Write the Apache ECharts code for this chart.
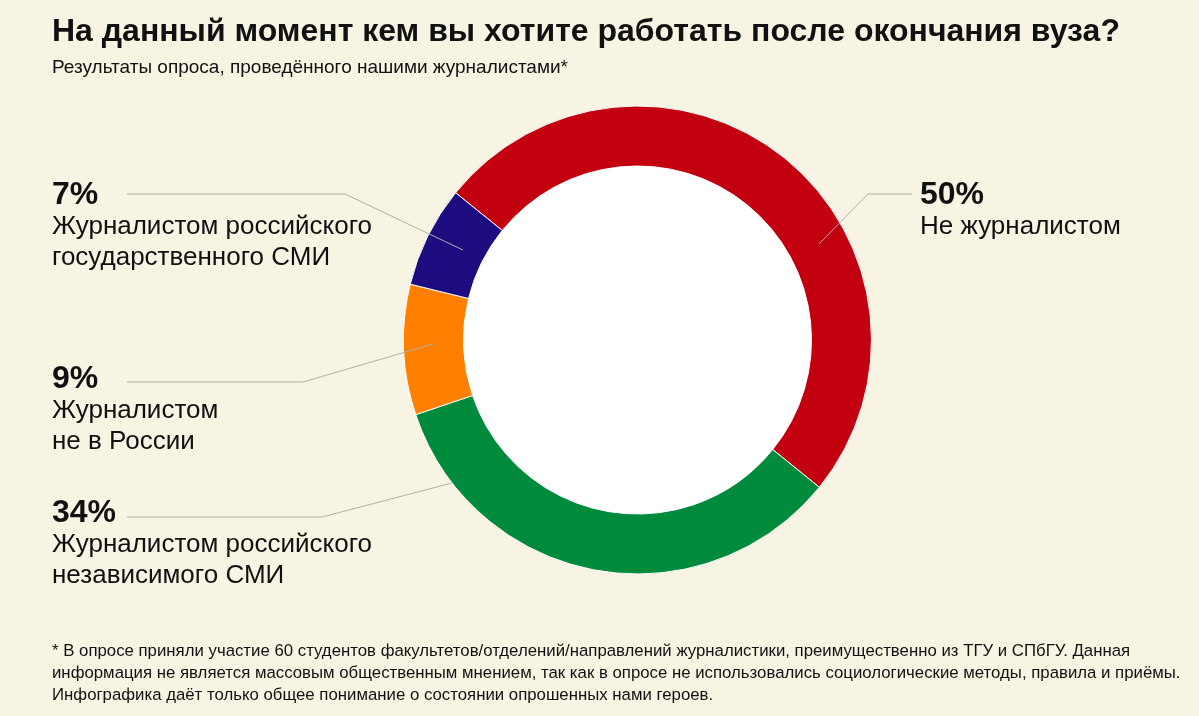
<!DOCTYPE html>
<html>
<head>
<meta charset="utf-8">
<script src="https://cdn.jsdelivr.net/npm/echarts@6/dist/echarts.min.js"></script>
<style>
html,body{margin:0;padding:0;background:#F8F4E4;}
#main{width:1199px;height:716px;}
</style>
</head>
<body>
<div id="main"></div>
<script>
// ---- data ----
const titleText = 'На данный момент кем вы хотите работать после окончания вуза?';
const subtitleText = 'Результаты опроса, проведённого нашими журналистами*';
const footnoteLines = [
  '* В опросе приняли участие 60 студентов факультетов/отделений/направлений журналистики, преимущественно из ТГУ и СПбГУ. Данная',
  'информация не является массовым общественным мнением, так как в опросе не использовались социологические методы, правила и приёмы.',
  'Инфографика даёт только общее понимание о состоянии опрошенных нами героев.'
];
const categories = [
  'Не журналистом',
  'Журналистом российского независимого СМИ',
  'Журналистом не в России',
  'Журналистом российского государственного СМИ'
];
const labelLines = [
  ['Не журналистом'],
  ['Журналистом российского', 'независимого СМИ'],
  ['Журналистом', 'не в России'],
  ['Журналистом российского', 'государственного СМИ']
];
const values = [50, 34, 9, 7];
const colors = ['#C3000F', '#008A3B', '#FF8000', '#1D0C80'];

// ---- layout (label placement and leader lines) ----
const labelPos = [
  {x: 920, y: 178, line: [[819, 244], [868, 194], [912, 194]]},
  {x: 52, y: 496, line: [[452, 483], [322, 517], [127, 517]]},
  {x: 52, y: 362, line: [[433, 344], [303, 382], [127, 382]]},
  {x: 52, y: 178, line: [[463, 250], [345, 194], [127, 194]]}
];

const chart = echarts.init(document.getElementById('main'), null, {renderer: 'canvas'});
const FONT = 'Arial';

const option = {
  backgroundColor: '#F8F4E4',
  animation: false,
  title: [
    {text: titleText, left: 52, top: 14, padding: 0,
     textStyle: {fontFamily: FONT, fontWeight: 'bold', fontSize: 32, color: '#111', lineHeight: 36}},
    {text: subtitleText, left: 52, top: 56, padding: 0,
     textStyle: {fontFamily: FONT, fontWeight: 'normal', fontSize: 19, color: '#111', lineHeight: 24}},
    {text: footnoteLines.join('\n'), left: 52, top: 640, padding: 0,
     textStyle: {fontFamily: FONT, fontWeight: 'normal', fontSize: 16.8, color: '#111', lineHeight: 22}}
  ],
  series: [
    {
      type: 'pie',
      silent: true,
      center: [637.5, 340],
      radius: [0, 174],
      label: {show: false},
      labelLine: {show: false},
      itemStyle: {color: '#FFFFFF'},
      data: [{value: 1, name: 'hole'}],
      z: 1
    },
    {
      type: 'pie',
      center: [637.5, 340],
      radius: [174, 234],
      startAngle: 141,
      clockwise: true,
      avoidLabelOverlap: false,
      itemStyle: {borderColor: '#FFFFFF', borderWidth: 1},
      data: values.map((v, i) => ({
        value: v, name: categories[i], itemStyle: {color: colors[i]}
      })),
      label: {show: false},
      labelLine: {show: false},
      z: 2
    },
    {
      // same values again, transparent, carrying the labels so leader lines sit above the ring
      type: 'pie',
      silent: true,
      center: [637.5, 340],
      radius: [174, 234],
      startAngle: 141,
      clockwise: true,
      avoidLabelOverlap: false,
      itemStyle: {color: 'rgba(0,0,0,0)', borderWidth: 0},
      data: values.map((v, i) => ({value: v, name: categories[i]})),
      label: {
        show: true,
        position: 'outside',
        formatter: function (p) {
          const i = p.dataIndex;
          return '{p|' + values[i] + '%}\n' + labelLines[i].map(l => '{t|' + l + '}').join('\n');
        },
        rich: {
          p: {fontFamily: FONT, fontWeight: 'bold', fontSize: 32, lineHeight: 34, color: '#111'},
          t: {fontFamily: FONT, fontWeight: 'normal', fontSize: 26, lineHeight: 30.5, color: '#111'}
        }
      },
      labelLine: {show: true, lineStyle: {color: '#B0B0A8', width: 1}},
      labelLayout: function (params) {
        const L = labelPos[params.dataIndex];
        return {x: L.x, y: L.y, align: 'left', verticalAlign: 'top', labelLinePoints: L.line};
      },
      z: 3
    }
  ]
};
chart.setOption(option);
</script>
</body>
</html>
